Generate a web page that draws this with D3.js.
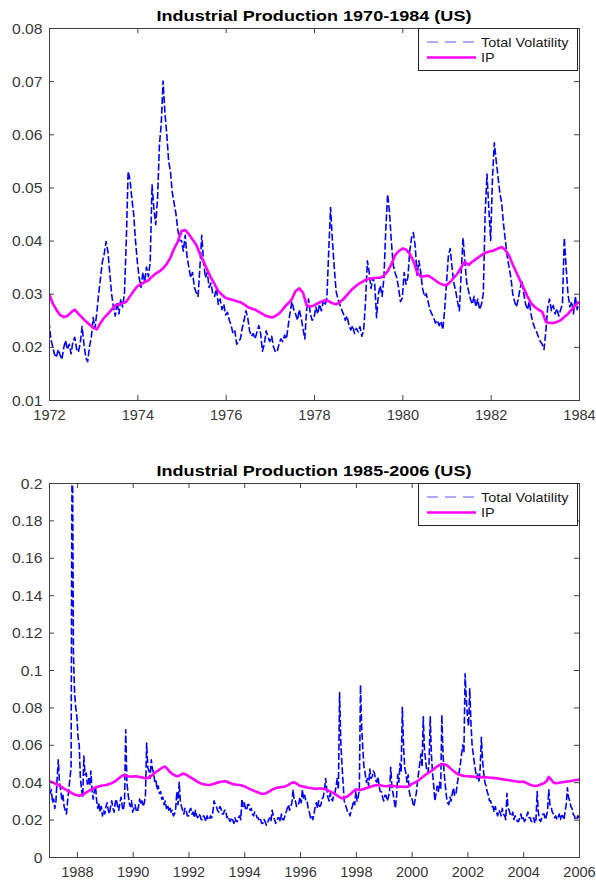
<!DOCTYPE html>
<html>
<head>
<meta charset="utf-8">
<script src="https://cdn.jsdelivr.net/npm/d3@7/dist/d3.min.js"></script>
<style>
  html, body { margin: 0; padding: 0; background: #ffffff; }
  svg { display: block; }
</style>
</head>
<body>
<svg id="fig" width="596" height="884"></svg>
<script>
// ---------------- data ----------------
// Total volatility 1972-1984, twice a month starting January 1972
const volatility7284 = [
  0.0248, 0.0215, 0.0200, 0.0186, 0.0180, 0.0195, 0.0185, 0.0176, 0.0198, 0.0212, 0.0195, 0.0205,
  0.0187, 0.0210, 0.0218, 0.0196, 0.0190, 0.0208, 0.0238, 0.0205, 0.0180, 0.0172, 0.0200, 0.0218,
  0.0255, 0.0235, 0.0265, 0.0300, 0.0330, 0.0360, 0.0375, 0.0398, 0.0380, 0.0340, 0.0300, 0.0275,
  0.0258, 0.0285, 0.0262, 0.0290, 0.0275, 0.0300, 0.0400, 0.0530, 0.0515, 0.0480, 0.0450, 0.0400,
  0.0360, 0.0330, 0.0312, 0.0340, 0.0322, 0.0350, 0.0332, 0.0360, 0.0505, 0.0460, 0.0430, 0.0480,
  0.0580, 0.0620, 0.0700, 0.0640, 0.0600, 0.0550, 0.0530, 0.0490, 0.0470, 0.0450, 0.0420, 0.0400,
  0.0400, 0.0380, 0.0410, 0.0370, 0.0350, 0.0330, 0.0340, 0.0312, 0.0302, 0.0295, 0.0350, 0.0410,
  0.0360, 0.0330, 0.0340, 0.0312, 0.0320, 0.0300, 0.0295, 0.0310, 0.0280, 0.0290, 0.0270, 0.0280,
  0.0260, 0.0265, 0.0250, 0.0240, 0.0225, 0.0230, 0.0205, 0.0210, 0.0215, 0.0235, 0.0250, 0.0268,
  0.0255, 0.0230, 0.0220, 0.0225, 0.0215, 0.0228, 0.0240, 0.0225, 0.0192, 0.0205, 0.0230, 0.0218,
  0.0210, 0.0220, 0.0200, 0.0190, 0.0192, 0.0205, 0.0215, 0.0210, 0.0222, 0.0215, 0.0240, 0.0265,
  0.0285, 0.0270, 0.0262, 0.0250, 0.0270, 0.0255, 0.0235, 0.0215, 0.0270, 0.0290, 0.0262, 0.0250,
  0.0255, 0.0275, 0.0262, 0.0280, 0.0268, 0.0285, 0.0278, 0.0292, 0.0380, 0.0462, 0.0400, 0.0350,
  0.0305, 0.0290, 0.0280, 0.0270, 0.0262, 0.0250, 0.0258, 0.0240, 0.0232, 0.0240, 0.0225, 0.0235,
  0.0228, 0.0238, 0.0220, 0.0232, 0.0285, 0.0362, 0.0340, 0.0310, 0.0330, 0.0318, 0.0255, 0.0300,
  0.0315, 0.0295, 0.0330, 0.0420, 0.0487, 0.0455, 0.0400, 0.0355, 0.0340, 0.0330, 0.0310, 0.0285,
  0.0292, 0.0340, 0.0318, 0.0330, 0.0380, 0.0405, 0.0415, 0.0390, 0.0335, 0.0362, 0.0340, 0.0310,
  0.0295, 0.0300, 0.0285, 0.0270, 0.0262, 0.0255, 0.0245, 0.0250, 0.0240, 0.0248, 0.0232, 0.0270,
  0.0320, 0.0370, 0.0385, 0.0350, 0.0320, 0.0305, 0.0285, 0.0268, 0.0340, 0.0405, 0.0360, 0.0320,
  0.0305, 0.0290, 0.0280, 0.0295, 0.0275, 0.0290, 0.0270, 0.0280, 0.0300, 0.0450, 0.0525, 0.0460,
  0.0400, 0.0520, 0.0584, 0.0550, 0.0520, 0.0490, 0.0470, 0.0430, 0.0400, 0.0370, 0.0350, 0.0330,
  0.0300, 0.0285, 0.0275, 0.0290, 0.0310, 0.0325, 0.0300, 0.0280, 0.0270, 0.0285, 0.0260, 0.0245,
  0.0235, 0.0228, 0.0218, 0.0210, 0.0205, 0.0195, 0.0230, 0.0275, 0.0290, 0.0268, 0.0278, 0.0262,
  0.0272, 0.0258, 0.0270, 0.0280, 0.0405, 0.0350, 0.0300, 0.0275, 0.0285, 0.0262, 0.0295, 0.0270,
  0.0285
];

// IP volatility 1972-1984, monthly starting January 1972
const ip7284 = [
  0.0300, 0.0282, 0.0270, 0.0260, 0.0256, 0.0258, 0.0265, 0.0270, 0.0262, 0.0255, 0.0248, 0.0242,
  0.0236, 0.0233, 0.0245, 0.0255, 0.0262, 0.0270, 0.0278, 0.0280, 0.0282, 0.0285, 0.0295, 0.0305,
  0.0314, 0.0318, 0.0322, 0.0325, 0.0332, 0.0338, 0.0342, 0.0348, 0.0356, 0.0368, 0.0385, 0.0398,
  0.0418, 0.0420, 0.0412, 0.0402, 0.0392, 0.0375, 0.0360, 0.0345, 0.0330, 0.0318, 0.0305, 0.0298,
  0.0292, 0.0290, 0.0288, 0.0286, 0.0284, 0.0280, 0.0275, 0.0272, 0.0270, 0.0266, 0.0262, 0.0258,
  0.0256, 0.0256, 0.0260, 0.0266, 0.0275, 0.0282, 0.0290, 0.0305, 0.0310, 0.0302, 0.0278, 0.0276,
  0.0278, 0.0282, 0.0285, 0.0288, 0.0286, 0.0282, 0.0280, 0.0284, 0.0290, 0.0298, 0.0306, 0.0312,
  0.0318, 0.0322, 0.0326, 0.0328, 0.0329, 0.0330, 0.0330, 0.0334, 0.0342, 0.0355, 0.0372, 0.0380,
  0.0385, 0.0383, 0.0375, 0.0362, 0.0340, 0.0332, 0.0333, 0.0334, 0.0330, 0.0325, 0.0320, 0.0317,
  0.0316, 0.0322, 0.0330, 0.0338, 0.0350, 0.0360, 0.0354, 0.0360, 0.0365, 0.0370, 0.0375, 0.0378,
  0.0380, 0.0382, 0.0385, 0.0388, 0.0382, 0.0372, 0.0355, 0.0340, 0.0325, 0.0310, 0.0295, 0.0282,
  0.0275, 0.0270, 0.0266, 0.0247, 0.0245, 0.0245, 0.0247, 0.0250, 0.0256, 0.0262, 0.0270, 0.0278,
  0.0285
];

// Total volatility 1987-2006, twice a month starting January 1987
const volatility8706 = [
  0.040, 0.034, 0.036, 0.029, 0.031, 0.026, 0.030, 0.042, 0.052, 0.040, 0.036, 0.031,
  0.033, 0.027, 0.025, 0.023, 0.030, 0.036, 0.042, 0.048, 0.250, 0.110, 0.088, 0.080,
  0.075, 0.064, 0.060, 0.042, 0.036, 0.032, 0.054, 0.044, 0.045, 0.039, 0.042, 0.038,
  0.046, 0.036, 0.031, 0.035, 0.038, 0.030, 0.026, 0.029, 0.024, 0.027, 0.022, 0.025,
  0.023, 0.027, 0.029, 0.025, 0.023, 0.027, 0.030, 0.026, 0.024, 0.029, 0.031, 0.027,
  0.025, 0.029, 0.032, 0.027, 0.025, 0.030, 0.068, 0.040, 0.034, 0.029, 0.027, 0.030,
  0.024, 0.026, 0.028, 0.025, 0.024, 0.027, 0.031, 0.028, 0.030, 0.027, 0.029, 0.033,
  0.061, 0.048, 0.046, 0.042, 0.052, 0.047, 0.045, 0.040, 0.041, 0.036, 0.038, 0.034,
  0.035, 0.031, 0.032, 0.028, 0.030, 0.026, 0.028, 0.025, 0.027, 0.024, 0.025, 0.022,
  0.023, 0.026, 0.035, 0.028, 0.040, 0.030, 0.027, 0.025, 0.023, 0.026, 0.025, 0.022,
  0.022, 0.025, 0.026, 0.023, 0.024, 0.021, 0.025, 0.022, 0.021, 0.023, 0.022, 0.020,
  0.020, 0.022, 0.021, 0.019, 0.022, 0.020, 0.020, 0.022, 0.021, 0.024, 0.030, 0.028,
  0.027, 0.025, 0.024, 0.027, 0.026, 0.023, 0.023, 0.025, 0.025, 0.021, 0.022, 0.020,
  0.019, 0.021, 0.020, 0.018, 0.021, 0.019, 0.019, 0.021, 0.022, 0.020, 0.031, 0.027,
  0.029, 0.026, 0.025, 0.028, 0.028, 0.025, 0.026, 0.023, 0.022, 0.024, 0.023, 0.021,
  0.021, 0.019, 0.020, 0.018, 0.018, 0.020, 0.019, 0.017, 0.018, 0.020, 0.021, 0.019,
  0.025, 0.022, 0.020, 0.018, 0.019, 0.021, 0.021, 0.019, 0.023, 0.020, 0.020, 0.022,
  0.024, 0.026, 0.028, 0.025, 0.027, 0.029, 0.036, 0.030, 0.030, 0.027, 0.027, 0.029,
  0.032, 0.029, 0.036, 0.031, 0.033, 0.030, 0.030, 0.026, 0.024, 0.021, 0.022, 0.020,
  0.023, 0.027, 0.029, 0.026, 0.030, 0.027, 0.028, 0.031, 0.032, 0.036, 0.042, 0.036,
  0.032, 0.030, 0.034, 0.031, 0.030, 0.033, 0.034, 0.038, 0.042, 0.036, 0.088, 0.062,
  0.050, 0.040, 0.030, 0.028, 0.026, 0.024, 0.024, 0.022, 0.025, 0.027, 0.030, 0.028,
  0.035, 0.030, 0.032, 0.036, 0.092, 0.070, 0.058, 0.048, 0.045, 0.040, 0.042, 0.038,
  0.047, 0.042, 0.043, 0.046, 0.045, 0.041, 0.040, 0.043, 0.038, 0.035, 0.035, 0.032,
  0.030, 0.033, 0.033, 0.030, 0.032, 0.035, 0.048, 0.038, 0.034, 0.030, 0.026, 0.032,
  0.044, 0.040, 0.050, 0.046, 0.080, 0.060, 0.048, 0.045, 0.040, 0.044, 0.035, 0.032,
  0.032, 0.029, 0.027, 0.031, 0.034, 0.040, 0.045, 0.050, 0.055, 0.048, 0.075, 0.058,
  0.052, 0.046, 0.045, 0.050, 0.075, 0.055, 0.045, 0.038, 0.030, 0.034, 0.038, 0.035,
  0.040, 0.036, 0.076, 0.055, 0.045, 0.038, 0.032, 0.029, 0.028, 0.032, 0.030, 0.034,
  0.037, 0.033, 0.033, 0.038, 0.042, 0.046, 0.050, 0.055, 0.060, 0.056, 0.098, 0.085,
  0.075, 0.070, 0.090, 0.072, 0.060, 0.055, 0.050, 0.046, 0.042, 0.045, 0.040, 0.048,
  0.064, 0.052, 0.045, 0.040, 0.038, 0.035, 0.033, 0.030, 0.030, 0.027, 0.027, 0.024,
  0.027, 0.024, 0.022, 0.025, 0.024, 0.022, 0.026, 0.023, 0.022, 0.020, 0.034, 0.026,
  0.025, 0.022, 0.022, 0.024, 0.020, 0.022, 0.021, 0.019, 0.019, 0.021, 0.023, 0.020,
  0.021, 0.019, 0.020, 0.022, 0.024, 0.021, 0.021, 0.019, 0.019, 0.021, 0.018, 0.020,
  0.035, 0.024, 0.020, 0.019, 0.021, 0.023, 0.023, 0.020, 0.022, 0.025, 0.036, 0.028,
  0.027, 0.024, 0.023, 0.021, 0.022, 0.020, 0.021, 0.023, 0.020, 0.022, 0.022, 0.020,
  0.024, 0.028, 0.037, 0.032, 0.030, 0.027, 0.026, 0.023, 0.022, 0.020, 0.020, 0.022,
  0.021
];

// IP volatility 1987-2006, monthly starting January 1987
const ip8706 = [
  0.0408, 0.0402, 0.0396, 0.0390, 0.0385, 0.0378, 0.0370, 0.0362, 0.0355, 0.0348, 0.0340, 0.0334,
  0.0330, 0.0328, 0.0332, 0.0336, 0.0345, 0.0352, 0.0360, 0.0366, 0.0372, 0.0376, 0.0380, 0.0382,
  0.0384, 0.0386, 0.0390, 0.0395, 0.0402, 0.0410, 0.0420, 0.0430, 0.0438, 0.0436, 0.0432, 0.0430,
  0.0430, 0.0432, 0.0430, 0.0428, 0.0425, 0.0422, 0.0420, 0.0425, 0.0435, 0.0445, 0.0455, 0.0462,
  0.0472, 0.0480, 0.0483, 0.0470, 0.0455, 0.0445, 0.0438, 0.0432, 0.0435, 0.0442, 0.0446, 0.0440,
  0.0432, 0.0425, 0.0418, 0.0410, 0.0402, 0.0395, 0.0390, 0.0388, 0.0386, 0.0385, 0.0388, 0.0392,
  0.0396, 0.0400, 0.0403, 0.0404, 0.0405, 0.0400, 0.0395, 0.0390, 0.0388, 0.0386, 0.0385, 0.0382,
  0.0378, 0.0372, 0.0366, 0.0360, 0.0355, 0.0350, 0.0345, 0.0340, 0.0338, 0.0340, 0.0345, 0.0352,
  0.0360, 0.0366, 0.0370, 0.0372, 0.0374, 0.0376, 0.0380, 0.0386, 0.0394, 0.0400, 0.0396, 0.0388,
  0.0380, 0.0378, 0.0375, 0.0372, 0.0370, 0.0368, 0.0366, 0.0365, 0.0366, 0.0366, 0.0365, 0.0362,
  0.0356, 0.0350, 0.0344, 0.0336, 0.0328, 0.0320, 0.0314, 0.0316, 0.0322, 0.0330, 0.0340, 0.0352,
  0.0362, 0.0360, 0.0358, 0.0362, 0.0366, 0.0370, 0.0374, 0.0378, 0.0382, 0.0385, 0.0384, 0.0382,
  0.0380, 0.0378, 0.0380, 0.0382, 0.0380, 0.0378, 0.0376, 0.0377, 0.0376, 0.0375, 0.0376, 0.0380,
  0.0390, 0.0396, 0.0402, 0.0410, 0.0420, 0.0430, 0.0440, 0.0448, 0.0456, 0.0465, 0.0475, 0.0485,
  0.0492, 0.0495, 0.0496, 0.0492, 0.0482, 0.0470, 0.0460, 0.0450, 0.0442, 0.0438, 0.0435, 0.0433,
  0.0432, 0.0431, 0.0430, 0.0429, 0.0428, 0.0428, 0.0427, 0.0426, 0.0426, 0.0425, 0.0424, 0.0423,
  0.0422, 0.0420, 0.0418, 0.0416, 0.0414, 0.0412, 0.0410, 0.0408, 0.0406, 0.0404, 0.0402, 0.0402,
  0.0403, 0.0398, 0.0392, 0.0386, 0.0382, 0.0380, 0.0381, 0.0385, 0.0390, 0.0395, 0.0405, 0.0428,
  0.0415, 0.0398, 0.0394, 0.0396, 0.0398, 0.0400, 0.0402, 0.0404, 0.0405, 0.0408, 0.0410, 0.0412,
  0.0414
];

const seriesNames = ["Total Volatility", "IP"];
const panelTitles = ["Industrial Production 1970-1984 (US)", "Industrial Production 1985-2006 (US)"];

const xTicks7284 = [1972, 1974, 1976, 1978, 1980, 1982, 1984];
const yTicks7284 = [0.01, 0.02, 0.03, 0.04, 0.05, 0.06, 0.07, 0.08];
const xTicks8706 = [1988, 1990, 1992, 1994, 1996, 1998, 2000, 2002, 2004, 2006];
const yTicks8706 = [0, 0.02, 0.04, 0.06, 0.08, 0.1, 0.12, 0.14, 0.16, 0.18, 0.2];

// ---------------- drawing ----------------
const svg = d3.select("#fig");
const FONT = "'Liberation Sans', Arial, Helvetica, sans-serif";
const AXIS_COLOR = "#404040";
const LABEL_COLOR = "#383838";
const VOL_COLOR = "#0000ff";
const IP_COLOR = "#ff00ff";
const TICK_LEN = 5;

// MATLAB-style labels render a little wider than Liberation Sans; stretch horizontally.
const SX_TITLE = 1.22, SX_YTICK = 1.12, SX_XTICK = 1.04, SX_LEGEND = 1.07;

const fmtTick = d => String(+d.toFixed(2));

function drawPanel(cfg, idx) {
  const left = 49, right = 579;
  const x = d3.scaleLinear().domain(cfg.xDomain).range([left, right]);
  const y = d3.scaleLinear().domain(cfg.yDomain).range([cfg.bottom, cfg.top]);
  const g = svg.append("g");

  const clipId = "clip" + idx;
  svg.append("clipPath").attr("id", clipId)
    .append("rect")
    .attr("x", left).attr("y", cfg.top)
    .attr("width", right - left).attr("height", cfg.bottom - cfg.top);

  const line = d3.line().x(d => x(d[0])).y(d => y(d[1]));
  const volPts = cfg.vol.map((v, i) => [cfg.xDomain[0] + i / cfg.volPerYear, v]);
  const ipPts = cfg.ip.map((v, i) => [cfg.xDomain[0] + i / cfg.ipPerYear, v]);

  const plot = g.append("g").attr("clip-path", `url(#${clipId})`);
  plot.append("path")
    .attr("d", line(volPts))
    .attr("fill", "none")
    .attr("stroke", VOL_COLOR)
    .attr("stroke-width", 1.6)
    .attr("stroke-dasharray", "7,2.5")
    .attr("stroke-linejoin", "round");
  plot.append("path")
    .attr("d", line(ipPts))
    .attr("fill", "none")
    .attr("stroke", IP_COLOR)
    .attr("stroke-width", 2.6)
    .attr("stroke-linejoin", "round");

  // axes with inward ticks on all four sides
  const styleAxis = sel => {
    sel.attr("font-family", FONT).attr("font-size", 14);
    sel.select(".domain").remove();
    sel.selectAll(".tick line").attr("stroke", AXIS_COLOR);
  };

  const xb = g.append("g").attr("transform", `translate(0,${cfg.bottom})`)
    .call(d3.axisBottom(x).tickValues(cfg.xTicks).tickSizeInner(-TICK_LEN).tickSizeOuter(0).tickFormat(d3.format("d")))
    .call(styleAxis);
  xb.selectAll(".tick text")
    .attr("y", 20.5).attr("dy", null)
    .attr("fill", LABEL_COLOR)
    .attr("transform", `scale(${SX_XTICK},1)`);

  g.append("g").attr("transform", `translate(0,${cfg.top})`)
    .call(d3.axisTop(x).tickValues(cfg.xTicks).tickSizeInner(-TICK_LEN).tickSizeOuter(0).tickFormat(""))
    .call(styleAxis);

  const yl = g.append("g").attr("transform", `translate(${left},0)`)
    .call(d3.axisLeft(y).tickValues(cfg.yTicks).tickSizeInner(-TICK_LEN).tickSizeOuter(0)
      .tickPadding(6.5 / SX_YTICK).tickFormat(fmtTick))
    .call(styleAxis);
  yl.selectAll(".tick text")
    .attr("fill", LABEL_COLOR)
    .attr("dy", "0.36em")
    .attr("transform", `scale(${SX_YTICK},1)`);

  g.append("g").attr("transform", `translate(${right},0)`)
    .call(d3.axisRight(y).tickValues(cfg.yTicks).tickSizeInner(-TICK_LEN).tickSizeOuter(0).tickFormat(""))
    .call(styleAxis);

  // axes box
  g.append("rect")
    .attr("x", left).attr("y", cfg.top)
    .attr("width", right - left).attr("height", cfg.bottom - cfg.top)
    .attr("fill", "none").attr("stroke", AXIS_COLOR).attr("stroke-width", 1)
    .attr("shape-rendering", "crispEdges");

  // title
  g.append("text")
    .attr("transform", `translate(${(left + right) / 2},${cfg.top - 7}) scale(${SX_TITLE},1)`)
    .attr("text-anchor", "middle")
    .attr("font-family", FONT).attr("font-size", 14.8).attr("font-weight", "bold")
    .attr("fill", "#000")
    .text(cfg.title);

  // legend
  const lgX = 418, lgW = 159, lgH = 42.5;
  const lg = g.append("g").attr("transform", `translate(${lgX},${cfg.top})`);
  lg.append("rect").attr("width", lgW).attr("height", lgH)
    .attr("fill", "#fff").attr("stroke", "#262626").attr("stroke-width", 1)
    .attr("shape-rendering", "crispEdges");
  const rows = [
    { name: seriesNames[0], color: VOL_COLOR, w: 1.2, dash: "11,7", op: 0.65 },
    { name: seriesNames[1], color: IP_COLOR, w: 2.6, dash: null, op: 1 }
  ];
  rows.forEach((r, i) => {
    const cy = 14 + i * 15.5;
    lg.append("line")
      .attr("x1", 9).attr("x2", 58).attr("y1", cy).attr("y2", cy)
      .attr("stroke", r.color).attr("stroke-width", r.w)
      .attr("stroke-opacity", r.op)
      .attr("stroke-dasharray", r.dash);
    lg.append("text")
      .attr("transform", `translate(63,${cy}) scale(${SX_LEGEND},1)`)
      .attr("dy", "0.36em")
      .attr("font-family", FONT).attr("font-size", 13.5)
      .attr("fill", "#1a1a1a")
      .text(r.name);
  });
}

drawPanel({
  title: panelTitles[0], top: 28, bottom: 400,
  xDomain: [1972, 1984], yDomain: [0.01, 0.08],
  xTicks: xTicks7284, yTicks: yTicks7284,
  vol: volatility7284, volPerYear: 24,
  ip: ip7284, ipPerYear: 12
}, 0);

drawPanel({
  title: panelTitles[1], top: 483, bottom: 857,
  xDomain: [1987, 2006], yDomain: [0, 0.2],
  xTicks: xTicks8706, yTicks: yTicks8706,
  vol: volatility8706, volPerYear: 24,
  ip: ip8706, ipPerYear: 12
}, 1);
</script>
</body>
</html>
